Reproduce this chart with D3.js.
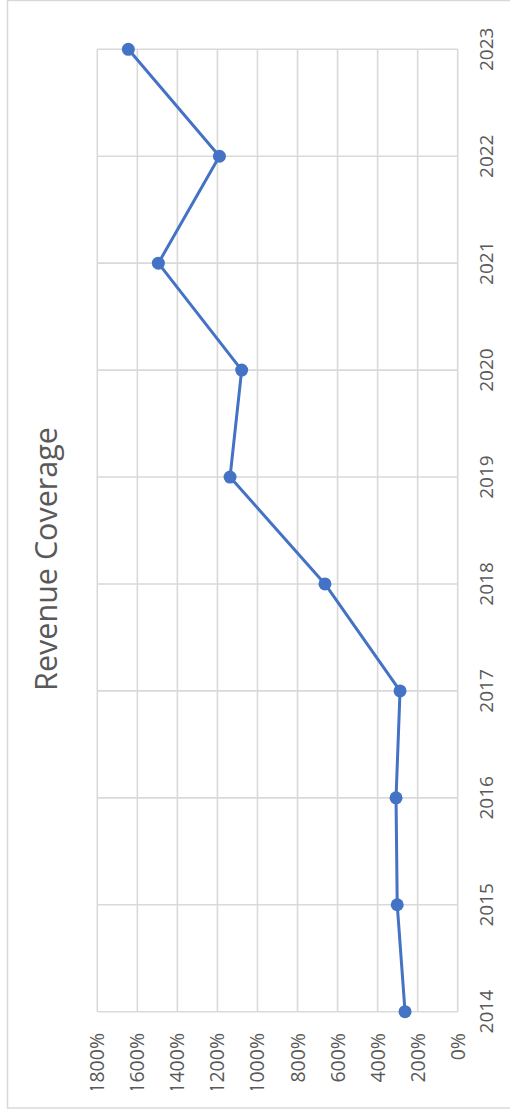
<!DOCTYPE html>
<html>
<head>
<meta charset="utf-8">
<script src="https://cdn.jsdelivr.net/npm/d3@7"></script>
<style>
  body { margin: 0; background: #fff; }
  svg { display: block; }
  text { font-family: "Open Sans", "Noto Sans", sans-serif; fill: #595959; }
</style>
</head>
<body>
<div id="chart"></div>
<script>
// data
var years = ["2014","2015","2016","2017","2018","2019","2020","2021","2022","2023"];
var coverage = [263, 302, 308, 288, 663, 1137, 1079, 1495, 1190, 1645];
var valueTicks = [0, 200, 400, 600, 800, 1000, 1200, 1400, 1600, 1800];
var title = "Revenue Coverage";

(function(){
  var W = 510, H = 1110;
  var pleft = 97.3, pright = 457.7, ptop = 49.3, pbottom = 1011.7;
  var gridc = '#d9d9d9';
  var linec = '#4472C4';

  var svg = d3.select('#chart').append('svg')
    .attr('width', W).attr('height', H);

  // outer chart border
  svg.append('rect')
    .attr('x', 7.5).attr('y', 0.5)
    .attr('width', 540).attr('height', 1107.5)
    .attr('fill', 'none').attr('stroke', gridc).attr('stroke-width', 1.5);

  // chart is rotated: value axis runs right->left, years bottom->top
  var x = d3.scaleLinear().domain([0, 1800]).range([pright, pleft]);
  var y = d3.scalePoint().domain(years).range([pbottom, ptop]);

  // vertical gridlines (values)
  svg.selectAll('.vgrid').data(valueTicks).enter().append('line')
    .attr('class', 'vgrid')
    .attr('x1', function(d){ return x(d); }).attr('x2', function(d){ return x(d); })
    .attr('y1', ptop).attr('y2', pbottom)
    .attr('stroke', gridc).attr('stroke-width', 1.6);

  // horizontal gridlines (years)
  svg.selectAll('.hgrid').data(years).enter().append('line')
    .attr('class', 'hgrid')
    .attr('x1', pleft).attr('x2', pright)
    .attr('y1', function(d){ return y(d); }).attr('y2', function(d){ return y(d); })
    .attr('stroke', gridc).attr('stroke-width', 1.6);

  // value tick labels, clipped like the original
  svg.append('clipPath').attr('id', 'tickclip').append('rect')
    .attr('x', 0).attr('y', 1020).attr('width', W).attr('height', 70);

  svg.append('g').attr('clip-path', 'url(#tickclip)')
    .selectAll('text').data(valueTicks).enter().append('text')
    .attr('transform', function(d){ return 'translate(' + (x(d) + 7) + ',1033) rotate(-90)'; })
    .attr('text-anchor', 'end')
    .style('font-size', '19.5px')
    .text(function(d){ return d + '%'; });

  // year labels
  svg.selectAll('.ylab').data(years).enter().append('text')
    .attr('class', 'ylab')
    .attr('transform', function(d){ return 'translate(493,' + y(d) + ') rotate(-90)'; })
    .attr('text-anchor', 'middle')
    .style('font-size', '19px')
    .text(function(d){ return d; });

  // title
  svg.append('text')
    .attr('transform', 'translate(57,559) rotate(-90)')
    .attr('text-anchor', 'middle')
    .style('font-size', '30.5px')
    .text(title);

  // series line
  var line = d3.line()
    .x(function(d){ return x(d); })
    .y(function(d, i){ return y(years[i]); });

  svg.append('path')
    .datum(coverage)
    .attr('d', line)
    .attr('fill', 'none')
    .attr('stroke', linec)
    .attr('stroke-width', 3)
    .attr('stroke-linejoin', 'round');

  svg.selectAll('.dot').data(coverage).enter().append('circle')
    .attr('class', 'dot')
    .attr('cx', function(d){ return x(d); })
    .attr('cy', function(d, i){ return y(years[i]); })
    .attr('r', 6.5)
    .attr('fill', linec);
})();
</script>
</body>
</html>
